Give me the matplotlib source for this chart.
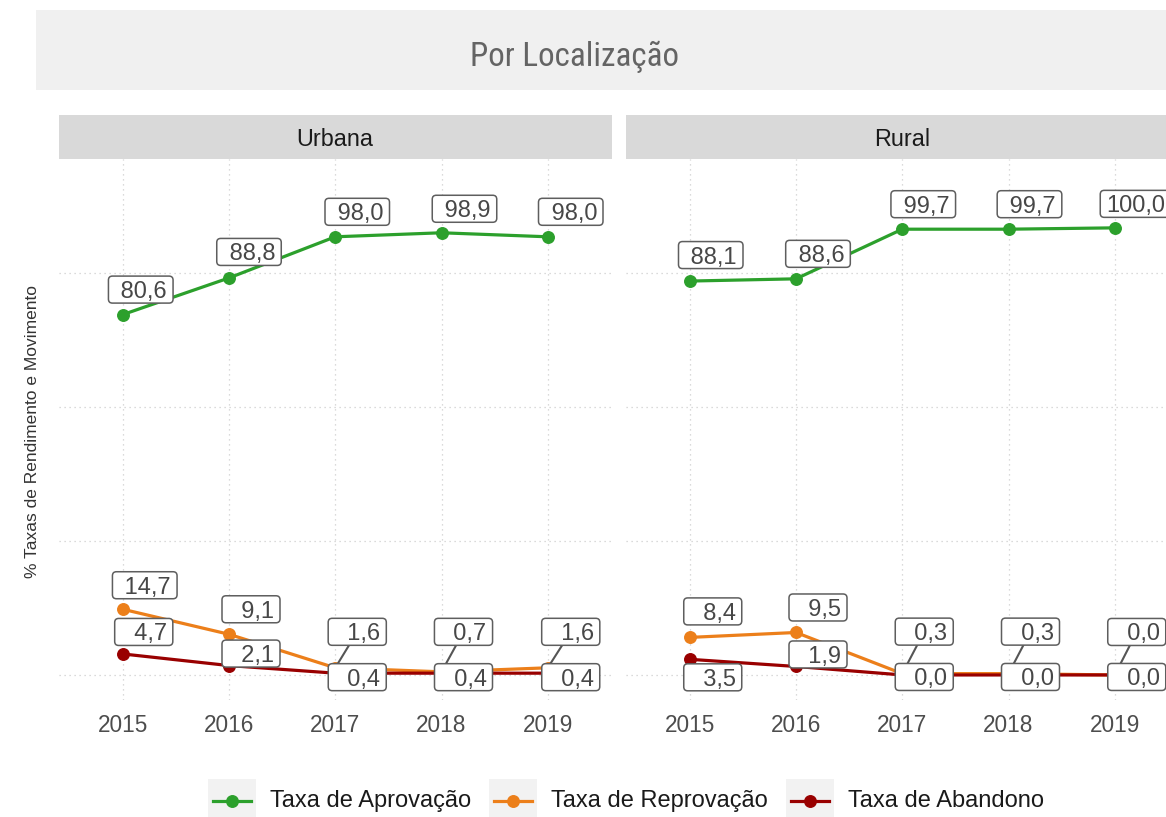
import matplotlib
matplotlib.use("Agg")
import matplotlib.pyplot as plt
from matplotlib import font_manager
from matplotlib.patches import Rectangle, FancyBboxPatch
from matplotlib.lines import Line2D
from matplotlib.transforms import IdentityTransform

# ---------------------------------------------------------------- data
years = ["2015", "2016", "2017", "2018", "2019"]
locations = ["Urbana", "Rural"]
series_names = ["Taxa de Aprovação", "Taxa de Reprovação", "Taxa de Abandono"]

urbana_aprovacao = [80.6, 88.8, 98.0, 98.9, 98.0]
urbana_reprovacao = [14.7, 9.1, 1.6, 0.7, 1.6]
urbana_abandono = [4.7, 2.1, 0.4, 0.4, 0.4]

rural_aprovacao = [88.1, 88.6, 99.7, 99.7, 100.0]
rural_reprovacao = [8.4, 9.5, 0.3, 0.3, 0.0]
rural_abandono = [3.5, 1.9, 0.0, 0.0, 0.0]

y_breaks = [0, 30, 60, 90]

# ---------------------------------------------------------------- style
series_colors = ["#2ca02c", "#ec7f1a", "#990000"]

# label box nudges in pixels (right, up) for each series / year
urbana_offsets = [
    [(18, 25), (20, 26), (22, 25), (23, 24), (23, 25)],
    [(22, 24), (22, 25), (22, 36), (22, 40), (23, 36)],
    [(21, 22), (22, 12), (22, -4), (22, -4), (23, -4)],
]
rural_offsets = [
    [(21, 26), (22, 25), (21, 25), (21, 25), (21, 24)],
    [(23, 26), (22, 25), (22, 42), (22, 42), (22, 43)],
    [(23, -18), (22, 12), (22, -2), (22, -2), (22, -2)],
]

W, H, DPI = 1166, 817, 100


def font_available(name):
    try:
        font_manager.findfont(font_manager.FontProperties(family=name),
                              fallback_to_default=False)
        return True
    except Exception:
        return False


BASE = "Liberation Sans" if font_available("Liberation Sans") else "DejaVu Sans"
NARROW = None
for cand in ["Liberation Sans Narrow", "Roboto Condensed", "DejaVu Sans Condensed"]:
    if font_available(cand):
        NARROW = cand
        break

plt.rcParams["font.family"] = [BASE, "DejaVu Sans"]

fig = plt.figure(figsize=(W / DPI, H / DPI), dpi=DPI)
fig.patch.set_facecolor("white")


def fx(px):
    return px / W


def fy(py):
    return 1 - py / H


PT = DPI / 72.0  # pixels per point

# ---------------------------------------------------------------- title band
fig.add_artist(Rectangle((fx(36), fy(90)), (W - 36) / W, 80 / H,
                         transform=fig.transFigure, facecolor="#f0f0f0",
                         edgecolor="none", zorder=0))
if NARROW:
    fig.text(fx(575), fy(66), "Por Localização", ha="center", va="baseline",
             fontsize=23.8, color="#646464", family=[NARROW, BASE])
else:
    fig.text(fx(575), fy(66), "Por Localização", ha="center", va="baseline",
             fontsize=21, color="#646464")

# ---------------------------------------------------------------- panels
panel_lefts = [59, 626]
panel_width = 552.5
panel_top, panel_bottom = 159, 700
strip_top = 115

panel_data = {
    "Urbana": [urbana_aprovacao, urbana_reprovacao, urbana_abandono],
    "Rural": [rural_aprovacao, rural_reprovacao, rural_abandono],
}
panel_offsets = {"Urbana": urbana_offsets, "Rural": rural_offsets}

axes = []
for loc, left in zip(locations, panel_lefts):
    ax = fig.add_axes([fx(left), fy(panel_bottom), panel_width / W,
                       (panel_bottom - panel_top) / H])
    ax.set_facecolor("white")
    ax.set_xlim(-0.6, len(years) - 0.4)
    ax.set_ylim(-5.6, 115.4)
    ax.set_xticks(range(len(years)))
    ax.set_xticklabels(years)
    ax.set_yticks(y_breaks)
    ax.set_yticklabels([])
    ax.tick_params(length=0, labelsize=16.3, labelcolor="#4d4d4d", pad=10)
    ax.grid(True, color="#cfcfcf", linestyle=(0, (1, 3)), linewidth=0.9)
    ax.set_axisbelow(True)
    for s in ax.spines.values():
        s.set_visible(False)

    for k, (vals, col) in enumerate(zip(panel_data[loc], series_colors)):
        ax.plot(range(len(years)), vals, color=col, lw=2.3, marker="o",
                ms=8.3, zorder=2 + k, clip_on=False, solid_capstyle="butt")

    # strip
    fig.add_artist(Rectangle((fx(left), fy(panel_top)), panel_width / W,
                             (panel_top - strip_top) / H,
                             transform=fig.transFigure, facecolor="#d9d9d9",
                             edgecolor="none", zorder=1))
    fig.text(fx(left + panel_width / 2), fy(146), loc, ha="center",
             va="baseline", fontsize=16.8, color="#1a1a1a")
    axes.append(ax)

# ---------------------------------------------------------------- value labels
renderer = fig.canvas.get_renderer()
LABEL_PT = 17
S = LABEL_PT * PT
BOX_H = 27
PAD_X = 6
MIN_SEG = 20


def fmt(v):
    return f"{v:5.1f}".replace(".", ",")


segments, boxes = [], []
for loc, ax in zip(locations, axes):
    for k, vals in enumerate(panel_data[loc]):
        for i, v in enumerate(vals):
            dx, dy = panel_offsets[loc][k][i]
            px, py = ax.transData.transform((i, v))
            cx, cy = px + dx, py + dy
            t = fig.text(cx, cy - 0.358 * S, fmt(v), transform=IdentityTransform(),
                         ha="center", va="baseline", fontsize=LABEL_PT,
                         color="#474747", zorder=7)
            w = t.get_window_extent(renderer=renderer).width
            bw = w + 2 * PAD_X
            boxes.append(FancyBboxPatch((cx - bw / 2, cy - BOX_H / 2), bw, BOX_H,
                                        boxstyle="round,pad=0,rounding_size=4",
                                        transform=IdentityTransform(),
                                        facecolor="white", edgecolor="#5e5e5e",
                                        lw=1.1, zorder=6))
            # leader line from the box edge toward its point
            vx, vy = px - cx, py - cy
            tx = (bw / 2) / abs(vx) if vx else float("inf")
            ty = (BOX_H / 2) / abs(vy) if vy else float("inf")
            te = min(tx, ty)
            if te < 1:
                ex, ey = cx + vx * te, cy + vy * te
                seg_len = ((px - ex) ** 2 + (py - ey) ** 2) ** 0.5
                if seg_len > MIN_SEG:
                    segments.append(Line2D([ex, px], [ey, py],
                                           transform=IdentityTransform(),
                                           color="#555555", lw=1.5, zorder=5))

for a in segments + boxes:
    fig.add_artist(a)

# ---------------------------------------------------------------- axis title
fig.text(fx(33), fy(432), "% Taxas de Rendimento e Movimento", rotation=90,
         ha="center", va="center", fontsize=12.5, color="#333333")

# ---------------------------------------------------------------- legend
key_x = 208
key_w = 48
key_top, key_bottom = 779, 823
leg_y = 801
for name, col in zip(series_names, series_colors):
    fig.add_artist(Rectangle((fx(key_x), fy(key_bottom)), key_w / W,
                             (key_bottom - key_top) / H,
                             transform=fig.transFigure, facecolor="#f2f2f2",
                             edgecolor="none", zorder=1))
    fig.add_artist(Line2D([fx(key_x + 5), fx(key_x + key_w - 5)], [fy(leg_y), fy(leg_y)],
                          transform=fig.transFigure, color=col, lw=2.3, zorder=2))
    fig.add_artist(Line2D([fx(key_x + key_w / 2)], [fy(leg_y)],
                          transform=fig.transFigure, color=col, marker="o",
                          ms=8.3, lw=0, zorder=3))
    lt = fig.text(fx(key_x + key_w + 14), fy(leg_y), name, ha="left",
                  va="center", fontsize=17, color="#1a1a1a")
    tw = lt.get_window_extent(renderer=renderer).width
    key_x = key_x + key_w + 14 + tw + 18

fig.savefig("out.png", dpi=DPI, facecolor="white")
